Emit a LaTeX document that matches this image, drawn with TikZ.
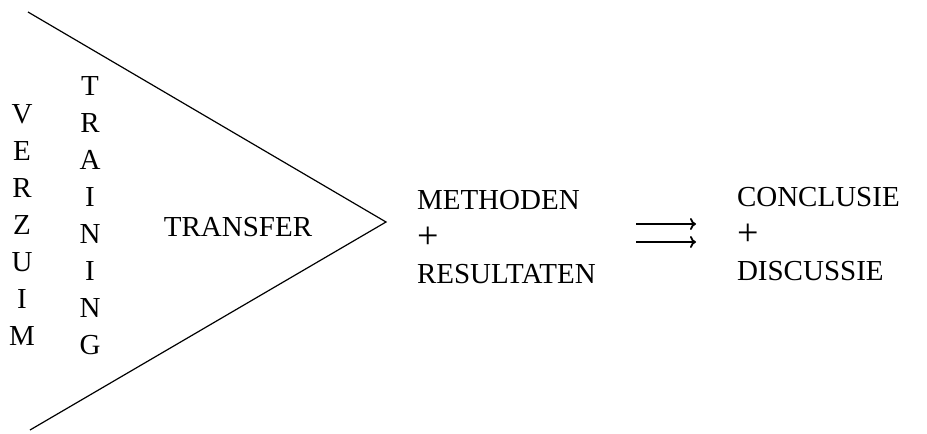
\documentclass[tikz,border=0pt]{standalone}
\usepackage{fontspec}
\setmainfont{Liberation Serif}
\usetikzlibrary{arrows.meta}
\newcommand{\bigplus}{\raisebox{-2pt}{\fontsize{38}{37}\selectfont +}}
\begin{document}
\begin{tikzpicture}[x=1pt,y=-1pt,
  lbl/.style={inner sep=0pt,outer sep=0pt,
    font=\fontsize{29}{37}\selectfont},
  vword/.style={lbl,align=center},
  block/.style={lbl,align=left,anchor=west},
  edge/.style={line width=1.2pt},
  dbl/.style={line width=1.8pt,-{To[length=6pt,width=12pt]}}]
  % page frame
  \useasboundingbox (0,0) rectangle (927,434);

  % funnel: two slanted lines meeting at the tip
  \coordinate (ftop) at (28,12);
  \coordinate (ftip) at (386,222);
  \coordinate (fbot) at (30,430);
  \draw[edge] (ftop) -- (ftip) -- (fbot);

  % vertical words and the central label
  \node[vword] (verzuim) at (22,225) {V\\E\\R\\Z\\U\\I\\M};
  \node[vword] (training) at (90,216) {T\\R\\A\\I\\N\\I\\N\\G};
  \node[lbl] (transfer) at (238,227) {TRANSFER};

  % result blocks
  \node[block] (methods) at (417,237) {METHODEN\\\bigplus\\RESULTATEN};
  \node[block] (concl) at (737,234) {CONCLUSIE\\\bigplus\\DISCUSSIE};

  % double arrow between the blocks
  \coordinate (a1s) at (636,224);
  \coordinate (a1e) at (696,224);
  \coordinate (a2s) at (636,242);
  \coordinate (a2e) at (696,242);
  \draw[dbl] (a1s) -- (a1e);
  \draw[dbl] (a2s) -- (a2e);
\end{tikzpicture}
\end{document}
